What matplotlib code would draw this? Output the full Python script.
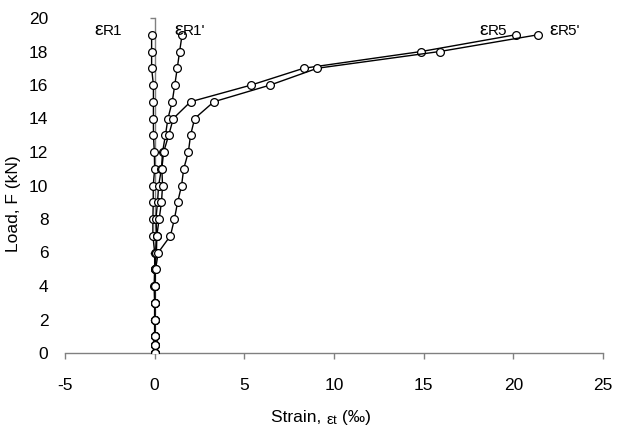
import matplotlib
matplotlib.use("Agg")
import matplotlib.pyplot as plt
from matplotlib.transforms import offset_copy

plt.rcParams['font.family'] = ['Liberation Sans', 'DejaVu Sans']

load = [0, 0.5, 1, 2, 3, 4, 5, 6, 7, 8, 9, 10, 11, 12, 13, 14, 15, 16, 17, 18, 19]
eps_R1 = [0, 0, 0, 0, 0, -0.03, 0, 0, -0.1, -0.1, -0.08, -0.08, 0.0, -0.02, -0.07, -0.07, -0.07, -0.07, -0.17, -0.17, -0.17]
eps_R1p = [0, 0, 0, 0, 0, 0, 0, 0.05, 0.12, 0.07, 0.16, 0.22, 0.38, 0.44, 0.6, 0.74, 0.98, 1.12, 1.26, 1.39, 1.53]
eps_R5 = [0, 0, 0, 0, 0, 0, 0.02, 0.1, 0.12, 0.25, 0.38, 0.44, 0.4, 0.5, 0.78, 1.04, 2.0, 5.39, 8.31, 14.87, 20.13]
eps_R5p = [0, 0, 0, 0, 0, 0, 0.05, 0.2, 0.88, 1.1, 1.28, 1.5, 1.62, 1.88, 2.0, 2.23, 3.3, 6.45, 9.07, 15.9, 21.38]

series_sub = ['R1', 'R1\'', 'R5', 'R5\'']
label_x = [-3.35, 1.1, 18.1, 22.0]
label_y = 19.0

x_ticks = [-5, 0, 5, 10, 15, 20, 25]
y_ticks = [0, 2, 4, 6, 8, 10, 12, 14, 16, 18, 20]

W, H = 622, 433
fig = plt.figure(figsize=(W / 100, H / 100), dpi=100)
ax = fig.add_axes([65 / W, 1 - 353 / H, (603 - 65) / W, (353 - 18) / H])

for s in [eps_R1, eps_R1p, eps_R5, eps_R5p]:
    ax.plot(s, load, color='black', lw=1.0, marker='o', ms=5.6,
            mfc='white', mec='black', mew=0.9, zorder=3)

ax.set_xlim(-5, 25)
ax.set_ylim(0, 20)
ax.set_xticks(x_ticks)
ax.set_yticks(y_ticks)
ax.set_xticklabels([str(v) for v in x_ticks])
ax.set_yticklabels([str(v) for v in y_ticks])

for sp in ['top', 'right']:
    ax.spines[sp].set_visible(False)
ax.spines['left'].set_position(('data', 0))
for sp in ['left', 'bottom']:
    ax.spines[sp].set_color('#808080')
    ax.spines[sp].set_linewidth(1.0)
ax.spines['bottom'].set_zorder(1)
ax.spines['left'].set_zorder(1)

ax.tick_params(axis='x', direction='out', length=4.5, width=1.0, color='#808080',
               pad=13.5, labelsize=12.5)
ax.tick_params(axis='y', direction='out', length=3.5, width=1.0, color='#808080',
               pad=73, labelsize=12.5)

fig.canvas.draw()
renderer = fig.canvas.get_renderer()


def text_width(t, fs):
    tmp = fig.text(0, 0, t, fontsize=fs)
    w = tmp.get_window_extent(renderer).width
    tmp.remove()
    return w

# series labels: large epsilon followed by the subscript-like name
eps_fs, sub_fs = 14, 11
eps_w = text_width('ε', eps_fs)
for sub, lx in zip(series_sub, label_x):
    ax.text(lx, label_y, 'ε', fontsize=eps_fs, ha='left', va='baseline')
    tr = offset_copy(ax.transData, fig=fig, x=eps_w * 72 / 100, y=0, units='points')
    ax.text(lx, label_y, sub, fontsize=sub_fs, ha='left', va='baseline', transform=tr)

# y label
fig.text(14 / W, 1 - 204 / H, 'Load, F (kN)', rotation=90, fontsize=12.5,
         ha='center', va='center')

# x label composed of pieces
parts = [('Strain, ', 12.5, 0), ('ε', 11, -1.5), ('t', 9.5, -1.5), (' (‰)', 12.5, 0)]
widths = [text_width(t, fs) for t, fs, dy in parts]
total = sum(widths)
cx, cy = 321, H - 422
x0 = cx - total / 2
for (t, fs, dy), w in zip(parts, widths):
    fig.text(x0 / W, (cy + dy) / H, t, fontsize=fs, ha='left', va='baseline')
    x0 += w

fig.savefig('out.png', dpi=100)
